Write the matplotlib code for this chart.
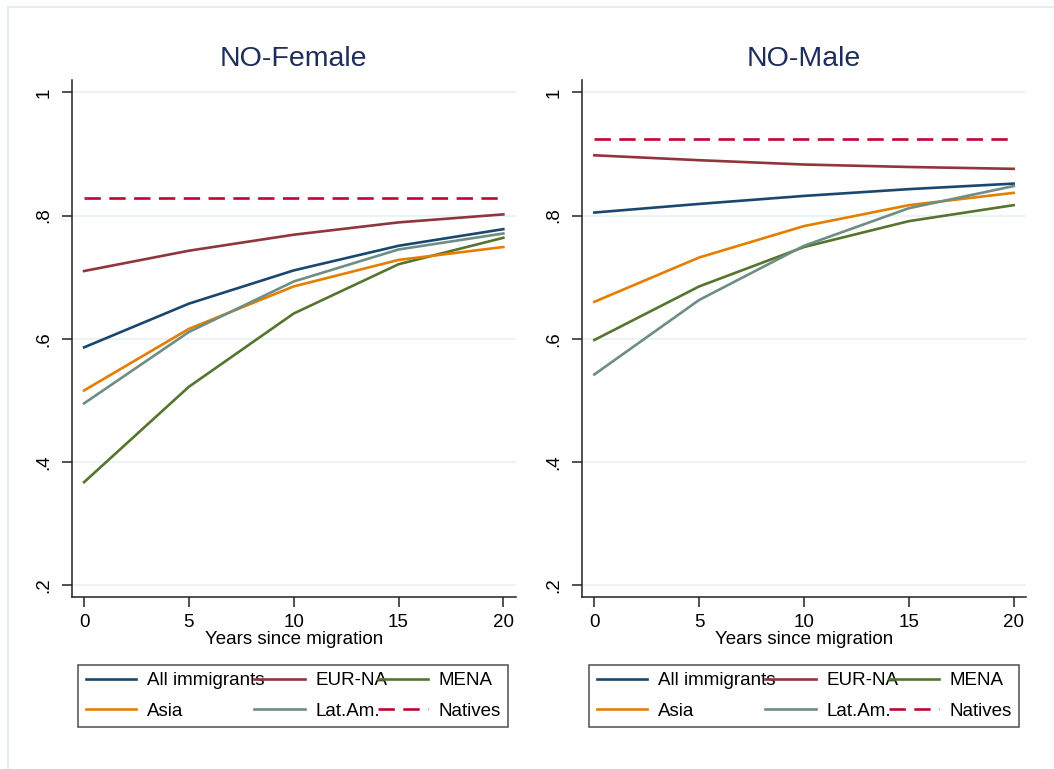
import matplotlib
matplotlib.use("Agg")
import matplotlib.pyplot as plt
from matplotlib.patches import Rectangle

plt.rcParams["font.family"] = ["Liberation Sans", "DejaVu Sans"]

# Employment rates by years since migration (Norway)
years = [0, 5, 10, 15, 20]

female_all = [0.586, 0.657, 0.711, 0.751, 0.778]
female_eurna = [0.710, 0.743, 0.769, 0.789, 0.802]
female_mena = [0.367, 0.522, 0.641, 0.721, 0.764]
female_asia = [0.516, 0.616, 0.685, 0.728, 0.749]
female_latam = [0.495, 0.611, 0.693, 0.745, 0.771]
female_natives = 0.829

male_all = [0.805, 0.819, 0.832, 0.843, 0.852]
male_eurna = [0.898, 0.890, 0.883, 0.879, 0.876]
male_mena = [0.598, 0.685, 0.749, 0.791, 0.817]
male_asia = [0.660, 0.732, 0.783, 0.817, 0.837]
male_latam = [0.542, 0.663, 0.751, 0.812, 0.848]
male_natives = 0.924

panel_titles = ["NO-Female", "NO-Male"]
yticks = [0.2, 0.4, 0.6, 0.8, 1.0]
ytick_labels = [".2", ".4", ".6", ".8", "1"]
xticks = [0, 5, 10, 15, 20]

# Stata s2color palette
colors = {
    "All immigrants": "#1a476f",
    "EUR-NA": "#90353b",
    "MENA": "#55752f",
    "Asia": "#e37e00",
    "Lat.Am.": "#6e8e84",
    "Natives": "#c10534",
}

W, H = 1054, 769
fig = plt.figure(figsize=(W / 100, H / 100), dpi=100)
fig.patch.set_facecolor("white")

# outer graph region outline
fig.patches.append(Rectangle((7.5 / W, -0.05), 1.1, 1 - 7 / H + 0.05,
                             transform=fig.transFigure, fill=False,
                             edgecolor="#e6ecf0", linewidth=1.5))

panels = [
    (female_all, female_eurna, female_mena, female_asia, female_latam, female_natives),
    (male_all, male_eurna, male_mena, male_asia, male_latam, male_natives),
]
left_px = [71.7, 582.0]
legend_px = [78.3, 589.3]

for i, (s_all, s_eur, s_mena, s_asia, s_lat, nat) in enumerate(panels):
    ax = fig.add_axes([left_px[i] / W, 1 - 597.3 / H, 444 / W, (597.3 - 80) / H])
    ax.set_xlim(-0.59, 20.59)
    ax.set_ylim(0.18, 1.0203)

    for y in yticks:
        ax.axhline(y, color="#eaf2f3", linewidth=1.3, zorder=0)

    lw = 1.9
    h_all, = ax.plot(years, s_all, color=colors["All immigrants"], lw=lw, label="All immigrants")
    h_eur, = ax.plot(years, s_eur, color=colors["EUR-NA"], lw=lw, label="EUR-NA")
    h_mena, = ax.plot(years, s_mena, color=colors["MENA"], lw=lw, label="MENA")
    h_asia, = ax.plot(years, s_asia, color=colors["Asia"], lw=lw, label="Asia")
    h_lat, = ax.plot(years, s_lat, color=colors["Lat.Am."], lw=lw, label="Lat.Am.")
    h_nat, = ax.plot(years, [nat] * len(years), color=colors["Natives"], lw=lw,
                     linestyle=(0, (6.2, 3.2)), label="Natives")

    for side in ["top", "right"]:
        ax.spines[side].set_visible(False)
    for side in ["left", "bottom"]:
        ax.spines[side].set_linewidth(1.1)
        ax.spines[side].set_color("#222222")

    ax.set_yticks(yticks)
    ax.set_yticklabels(ytick_labels, rotation=90, va="center")
    ax.set_xticks(xticks)
    ax.tick_params(axis="both", direction="out", length=7, width=1.1,
                   labelsize=13.5, color="#222222", pad=5)
    ax.tick_params(axis="y", pad=7)

    ax.set_title(panel_titles[i], fontsize=20.5, color="#1e2d5a", pad=10)
    ax.set_xlabel("Years since migration", fontsize=13.5, labelpad=0)

    # legend fills column by column, so order handles to read row-wise
    handles = [h_all, h_asia, h_eur, h_lat, h_mena, h_nat]
    leg = ax.legend(handles=handles, labels=[h.get_label() for h in handles],
                    loc="center", ncol=3, mode="expand",
                    bbox_to_anchor=(legend_px[i] / W, 1 - 729.3 / H,
                                    430 / W, 66.6 / H),
                    bbox_transform=fig.transFigure,
                    fontsize=13.5, frameon=True, fancybox=False,
                    edgecolor="#222222", handlelength=2.7, handletextpad=0.55,
                    labelspacing=0.7, borderpad=0.4, borderaxespad=0,
                    columnspacing=0.4)
    leg.get_frame().set_linewidth(1.1)

fig.savefig("out.png", dpi=100)
